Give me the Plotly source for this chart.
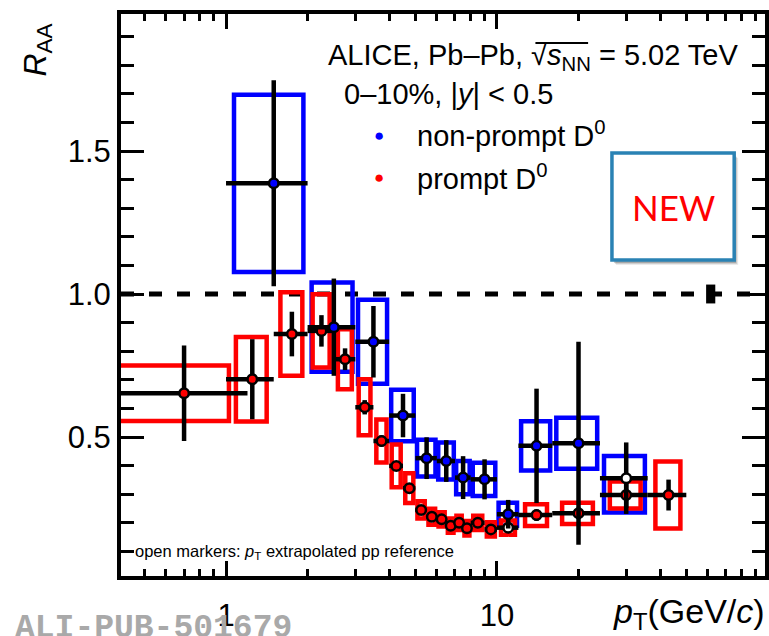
import plotly.graph_objects as go

# ---------------- data ----------------
# non-prompt D0, 0-10% Pb-Pb
np_pt = [1.5, 2.5, 3.5, 4.5, 5.5, 6.5, 7.5, 9.0, 11.0, 14.0, 20.0, 30.0]
np_pt_hw = [0.5, 0.5, 0.5, 0.5, 0.5, 0.5, 0.5, 1.0, 1.0, 2.0, 4.0, 6.0]
np_raa = [1.387, 0.884, 0.833, 0.575, 0.426, 0.416, 0.358, 0.352, 0.230, 0.469, 0.478, 0.356]
np_stat = [0.360, 0.170, 0.125, 0.076, 0.073, 0.073, 0.075, 0.070, 0.050, 0.200, 0.355, 0.125]
np_syst_up = [0.310, 0.156, 0.147, 0.090, 0.064, 0.065, 0.058, 0.058, 0.040, 0.086, 0.089, 0.078]
np_syst_dn = [0.310, 0.156, 0.147, 0.090, 0.064, 0.065, 0.058, 0.058, 0.040, 0.086, 0.089, 0.120]
np_extrap = [False] * 11 + [True]

# prompt D0, 0-10% Pb-Pb
p_pt = [0.7, 1.25, 1.75, 2.25, 2.75, 3.25, 3.75, 4.25, 4.75, 5.25, 5.75, 6.25,
        6.75, 7.25, 7.75, 8.5, 9.5, 11.0, 14.0, 20.0, 30.0, 43.0]
p_pt_hw = [0.5, 0.25, 0.25, 0.25, 0.25, 0.25, 0.25, 0.25, 0.25, 0.25, 0.25, 0.25,
           0.25, 0.25, 0.25, 0.5, 0.5, 1.0, 2.0, 4.0, 6.0, 7.0]
p_raa = [0.653, 0.702, 0.860, 0.871, 0.772, 0.604, 0.486, 0.399, 0.321, 0.245, 0.221, 0.212,
         0.190, 0.200, 0.181, 0.200, 0.177, 0.183, 0.227, 0.233, 0.297, 0.297]
p_stat = [0.167, 0.140, 0.078, 0.055, 0.038, 0.025, 0.020, 0.015, 0.015, 0.012, 0.010, 0.010,
          0.010, 0.010, 0.010, 0.010, 0.010, 0.015, 0.020, 0.020, 0.045, 0.054]
p_syst = [0.097, 0.148, 0.146, 0.128, 0.105, 0.098, 0.075, 0.075, 0.052, 0.030, 0.028, 0.025,
          0.025, 0.025, 0.025, 0.025, 0.025, 0.025, 0.038, 0.037, 0.047, 0.117]
p_extrap = [False] * 17 + [True] + [False] * 4

norm_unc = 0.033          # global normalisation uncertainty around unity
norm_pt = 61.5

x_ticks = [1, 10]
x_ticklabels = ["1", "10"]
y_ticks = [0.5, 1.0, 1.5]
y_ticklabels = ["0.5", "1.0", "1.5"]

# ---------------- layout geometry ----------------
W, H = 769, 636
ML, MR, MT, MB = 121, 0, 14, 60
PW, PH = W - ML - MR, H - MT - MB
X_RANGE = [-0.3877, -0.3877 + PW / 272.6]          # log10 units
Y_RANGE = [1 - (H - MB - 294) / 286.0, 1 + (294 - MT) / 286.0]

FONT = "Liberation Sans, Arial, Helvetica, sans-serif"
BLUE, RED = "#0000ff", "#ff0000"


def px(xp):
    return (xp - ML) / PW


def py(yp):
    return 1 - (yp - MT) / PH


def box_path(xc, hw, y, up, dn, frac):
    xs, ys = [], []
    for c, w, v, u, d in zip(xc, hw, y, up, dn):
        x0, x1 = c - frac * w, c + frac * w
        lo, hi = v - d, v + u
        xs += [c, x1, x1, x0, x0, c, None]
        ys += [lo, lo, hi, hi, lo, lo, None]
    return xs, ys


fig = go.Figure()

# systematic-uncertainty boxes
bx, by = box_path(np_pt, np_pt_hw, np_raa, np_syst_up, np_syst_dn, 0.86)
fig.add_trace(go.Scatter(x=bx, y=by, mode="lines", line=dict(color=BLUE, width=4.5),
                         hoverinfo="skip", showlegend=False))
rx, ry = box_path(p_pt, p_pt_hw, p_raa, p_syst, p_syst, 0.65)
fig.add_trace(go.Scatter(x=rx, y=ry, mode="lines", line=dict(color=RED, width=4.5),
                         hoverinfo="skip", showlegend=False))


def points(pt, hw, raa, stat, extrap, color, name):
    fill = ["white" if e else color for e in extrap]
    return go.Scatter(
        x=pt, y=raa, mode="markers", name=name, showlegend=False,
        marker=dict(symbol="circle", size=9.5, color=fill,
                    line=dict(color="black", width=2.5)),
        error_x=dict(type="data", array=hw, color="black", thickness=4.5, width=0),
        error_y=dict(type="data", array=stat, color="black", thickness=4.5, width=0),
    )


fig.add_trace(points(p_pt, p_pt_hw, p_raa, p_stat, p_extrap, RED, "prompt D0"))
fig.add_trace(points(np_pt, np_pt_hw, np_raa, np_stat, np_extrap, BLUE, "non-prompt D0"))

shapes = [
    # unity reference
    dict(type="line", xref="paper", yref="y", x0=0, x1=1, y0=1, y1=1,
         line=dict(color="black", width=5, dash="13px,15px"), layer="below"),
    # normalisation uncertainty
    dict(type="rect", xref="x", yref="y", x0=norm_pt * 0.962, x1=norm_pt * 1.04,
         y0=1 - norm_unc, y1=1 + norm_unc, fillcolor="black", line=dict(width=0)),
    # bar of the square root over s_NN
    dict(type="line", xref="paper", yref="paper", x0=px(538), x1=px(591),
         y0=py(43), y1=py(43), line=dict(color="black", width=2)),
]

# "NEW" badge with a soft shadow
bx0, bx1, by0, by1 = 615, 738, 153, 260
for off, alpha in [(5, 0.08), (4, 0.12), (3, 0.18)]:
    shapes.append(dict(type="rect", xref="paper", yref="paper",
                       x0=px(bx0 + off - 1), x1=px(bx1 + off - 1),
                       y0=py(by1 + off), y1=py(by0 + off),
                       fillcolor=f"rgba(0,0,0,{alpha})", line=dict(width=0)))
shapes.append(dict(type="rect", xref="paper", yref="paper",
                   x0=px(bx0), x1=px(bx1), y0=py(by1), y1=py(by0),
                   fillcolor="white", line=dict(color="#2a82b4", width=3.5)))

annotations = []


def note(text, x, y, size=29, xanchor="left", yanchor="middle", color="black",
         family=FONT, angle=0):
    annotations.append(dict(text=text, x=px(x), y=py(y), xref="paper", yref="paper",
                            xanchor=xanchor, yanchor=yanchor, showarrow=False,
                            textangle=angle,
                            font=dict(size=size, color=color, family=family)))


note("ALICE, Pb\u2013Pb, \u221a<i>s</i><sub>NN</sub> = 5.02 TeV", 327, 57)
note("0\u201310%, |<i>y</i>| < 0.5", 343, 94)
note("\u25cf", 381, 135, size=17, xanchor="center", color=BLUE)
note("\u25cf", 381, 178, size=17, xanchor="center", color=RED)
note("non-prompt D<sup>0</sup>", 417, 134)
note("prompt D<sup>0</sup>", 417, 177)
note("NEW", 677, 207, size=35, xanchor="center", color="#ff0000", family="Lato, sans-serif")
note("open markers: <i>p</i><sub>T</sub> extrapolated pp reference", 133, 552, size=16.5)
note("<i>R</i><sub>AA</sub>", 36, 50, size=32, xanchor="center", angle=-90)
note("<i>p</i><sub>T</sub>(GeV/<i>c</i>)", 771, 614, size=34, xanchor="right")
note("ALI-PUB-501679", 12, 628, size=33, color="#a9a9a9",
     family="Liberation Mono, Courier New, monospace")
annotations[-1]["font"]["weight"] = "bold"

x_minor = [v * d for d in (0.1, 1, 10) for v in range(2, 10)]

fig.update_layout(
    width=W, height=H,
    margin=dict(l=ML, r=MR, t=MT, b=MB, pad=0),
    paper_bgcolor="white", plot_bgcolor="white",
    showlegend=False,
    shapes=shapes, annotations=annotations,
    xaxis=dict(type="log", range=X_RANGE, showgrid=False, zeroline=False,
               showline=True, linecolor="black", linewidth=4, mirror="ticks",
               ticks="inside", ticklen=15, tickwidth=3, tickcolor="black",
               tickmode="array", tickvals=x_ticks, ticktext=x_ticklabels,
               tickfont=dict(size=31, family=FONT, color="black"),
               ticklabelstandoff=9,
               minor=dict(tickmode="array", tickvals=x_minor, ticks="inside",
                          ticklen=7, tickwidth=3, tickcolor="black")),
    yaxis=dict(range=Y_RANGE, showgrid=False, zeroline=False,
               showline=True, linecolor="black", linewidth=4, mirror="ticks",
               ticks="inside", ticklen=23, tickwidth=3, tickcolor="black",
               tickmode="array", tickvals=y_ticks, ticktext=y_ticklabels,
               tickfont=dict(size=31, family=FONT, color="black"),
               minor=dict(dtick=0.1, tick0=0, ticks="inside", ticklen=13,
                          tickwidth=3, tickcolor="black")),
)

fig.write_html("out.html")
